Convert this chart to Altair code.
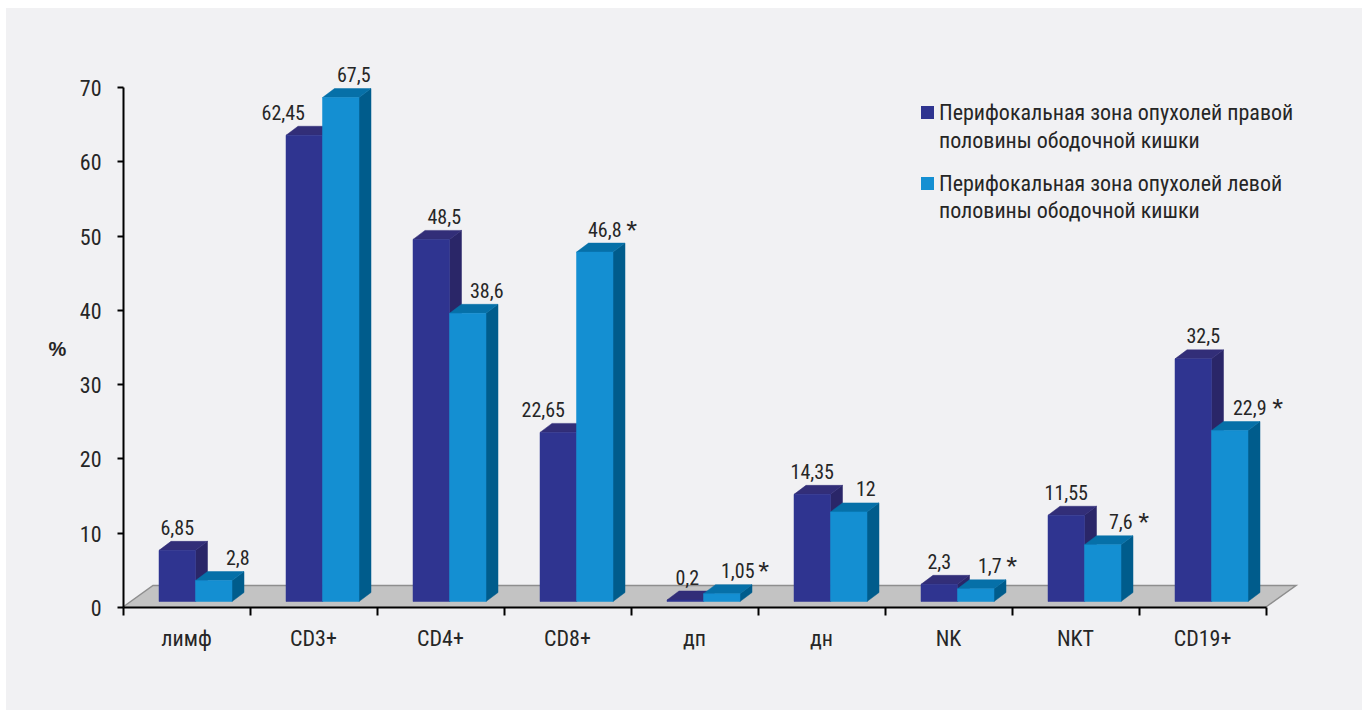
import json
import altair as alt
import pandas as pd

categories = ["лимф", "CD3+", "CD4+", "CD8+", "дп", "дн", "NK", "NKT", "CD19+"]
right_colon = [6.85, 62.45, 48.5, 22.65, 0.2, 14.35, 2.3, 11.55, 32.5]
left_colon = [2.8, 67.5, 38.6, 46.8, 1.05, 12, 1.7, 7.6, 22.9]
right_labels = ["6,85", "62,45", "48,5", "22,65", "0,2", "14,35", "2,3", "11,55", "32,5"]
left_labels = ["2,8", "67,5", "38,6", "46,8", "1,05", "12", "1,7", "7,6", "22,9"]
significant_left = ["CD8+", "дп", "NK", "NKT", "CD19+"]
legend_right = ["Перифокальная зона опухолей правой", "половины ободочной кишки"]
legend_left = ["Перифокальная зона опухолей левой", "половины ободочной кишки"]

# Horizontal nudges of the value labels away from their bars, in pixels.
right_nudge = [0, -21, 13, -15, 2, 0, 0, 0, 10]
left_nudge = [24, 13, 19, 10, 16, 17, 14, 18, 20]
star_gap = [0, 0, 0, 27, 26, 0, 22, 23, 28]

FONT = "Roboto Condensed"
WEIGHT = 400
TEXT = "#262626"
PX_X = 127.0           # pixels per category
PX_Y = 520 / 70        # pixels per percentage point
DEPTH_X = 12 / PX_X    # bar depth projected on x
DEPTH_Y = 9 / PX_Y     # bar depth projected on y
BASE = 5.5 / PX_Y      # bars stand slightly behind the front edge of the floor
STRETCH = 1.005
BAR_W = 36.5 / PX_X
BAR_START = 36 / PX_X
FLOOR_X = 30 / PX_X
FLOOR_Y = 21.5 / PX_Y

x_scale = alt.Scale(domain=[0, 9], nice=False, zero=False)
y_scale = alt.Scale(domain=[0, 70], nice=False)

label_expr = json.dumps(categories + [""], ensure_ascii=False) + "[datum.value]"
x_axis = alt.Axis(
    values=list(range(10)), labelExpr=label_expr, labelOffset=63,
    labelFont=FONT, labelFontWeight=WEIGHT, labelFontSize=22, labelColor=TEXT,
    labelPadding=13, labelOverlap=False, labelBound=False, labelFlush=False,
    tickColor="#000000", tickWidth=2, tickSize=8, grid=False,
    domainColor="#000000", domainWidth=2, title=None, zindex=1,
)
y_axis = alt.Axis(
    values=list(range(0, 71, 10)), labelFont=FONT, labelFontWeight=WEIGHT,
    labelFontSize=22, labelColor=TEXT, labelPadding=16, labelOffset=1.5,
    tickColor="#000000", tickWidth=2, tickSize=6, grid=False,
    domainColor="#000000", domainWidth=2, zindex=1,
    title="%", titleFont="Liberation Sans", titleFontSize=20,
    titleFontWeight="bold", titleAngle=0, titleColor=TEXT,
    titleX=-66, titleY=272,
)


def X(field="x:Q"):
    return alt.X(field, scale=x_scale, axis=x_axis)


def Y(field):
    return alt.Y(field, scale=y_scale, axis=y_axis)


def bar_faces(values, start):
    fronts, tops, sides = [], [], []
    for i, v in enumerate(values):
        x0 = i + start
        x1 = x0 + BAR_W
        top = BASE + v * STRETCH
        fronts.append({"x": x0, "x2": x1, "y": top, "y2": BASE})
        for px, lo, hi in [
            (x0, top, top),
            (x0 + DEPTH_X, top, top + DEPTH_Y),
            (x1, top, top + DEPTH_Y),
            (x1 + DEPTH_X, top + DEPTH_Y, top + DEPTH_Y),
        ]:
            tops.append({"bar": i, "x": px, "lo": lo, "hi": hi})
        for px, lo, hi in [
            (x1, BASE, top),
            (x1 + DEPTH_X, BASE + DEPTH_Y, top + DEPTH_Y),
        ]:
            sides.append({"bar": i, "x": px, "lo": lo, "hi": hi})
    return pd.DataFrame(fronts), pd.DataFrame(tops), pd.DataFrame(sides)


def face_area(df, color):
    return alt.Chart(df).mark_area(
        color=color, stroke=color, strokeWidth=0.5, interpolate="linear"
    ).encode(x=X(), y=Y("lo:Q"), y2="hi:Q", detail="bar:N")


def bar_layers(values, start, front_color, top_color, side_color):
    fronts, tops, sides = bar_faces(values, start)
    front = alt.Chart(fronts).mark_rect(
        color=front_color, stroke=front_color, strokeWidth=0.5
    ).encode(x=X(), x2="x2:Q", y=Y("y:Q"), y2="y2:Q")
    return [face_area(sides, side_color), face_area(tops, top_color), front]


def value_labels(values, labels, start, nudges):
    rows = []
    for i, (v, lab, n) in enumerate(zip(values, labels, nudges)):
        rows.append({
            "x": i + start + BAR_W / 2 + n / PX_X,
            "y": BASE + v * STRETCH + 21.5 / PX_Y,
            "label": lab,
        })
    return alt.Chart(pd.DataFrame(rows)).mark_text(
        font=FONT, fontWeight=WEIGHT, fontSize=20, color=TEXT,
        baseline="middle", align="center",
    ).encode(x=X(), y=Y("y:Q"), text="label:N")


# Backdrop panel behind the whole figure
panel = alt.Chart(pd.DataFrame({"a": [0]})).mark_rect(color="#f1f1f3").encode(
    x=alt.value(-117), x2=alt.value(1239), y=alt.value(-79), y2=alt.value(623)
)

# Grey floor of the pseudo-3D plot
floor_df = pd.DataFrame({
    "bar": 0,
    "x": [0, FLOOR_X, 9, 9 + FLOOR_X],
    "lo": [0, 0, 0, FLOOR_Y],
    "hi": [0, FLOOR_Y, FLOOR_Y, FLOOR_Y],
})
floor = alt.Chart(floor_df).mark_area(color="#c3c3c3", interpolate="linear").encode(
    x=X(), y=Y("lo:Q"), y2="hi:Q", detail="bar:N"
)
floor_edge_df = pd.DataFrame({
    "step": [0, 1, 2, 3],
    "x": [0, FLOOR_X, 9 + FLOOR_X, 9],
    "y": [0, FLOOR_Y, FLOOR_Y, 0],
})
floor_edge = alt.Chart(floor_edge_df).mark_line(color="#8e8e8e", strokeWidth=1.5).encode(
    x=X(), y=Y("y:Q"), order="step:Q"
)

dark_layers = bar_layers(right_colon, BAR_START, "#2f3490", "#322e78", "#2a2668")
light_layers = bar_layers(left_colon, BAR_START + BAR_W, "#148fd2", "#0670a8", "#005c8c")

star_rows = []
for i, (c, v, n) in enumerate(zip(categories, left_colon, left_nudge)):
    if c in significant_left:
        star_rows.append({
            "x": i + BAR_START + BAR_W * 1.5 + (n + star_gap[i]) / PX_X,
            "y": BASE + v * STRETCH + 21.5 / PX_Y,
            "label": "*",
        })
stars = alt.Chart(pd.DataFrame(star_rows)).mark_text(
    font="Liberation Sans", fontSize=28, color=TEXT, baseline="middle", align="center", dy=1
).encode(x=X(), y=Y("y:Q"), text="label:N")

# Hand-drawn legend in the upper right corner
legend_swatches = [
    alt.Chart(pd.DataFrame({"a": [0]})).mark_rect(color=col).encode(
        x=alt.value(798), x2=alt.value(811), y=alt.value(y0), y2=alt.value(y0 + 13)
    )
    for col, y0 in [("#2f3490", 19), ("#148fd2", 90)]
]
legend_lines = [
    alt.Chart(pd.DataFrame({"label": [line]})).mark_text(
        font=FONT, fontWeight=WEIGHT, fontSize=22, color=TEXT, align="left", baseline="middle"
    ).encode(x=alt.value(816), y=alt.value(py), text="label:N")
    for line, py in zip(legend_right + legend_left, [26, 54, 97, 124])
]

chart = alt.layer(
    panel, floor, floor_edge, *dark_layers, *light_layers,
    value_labels(right_colon, right_labels, BAR_START, right_nudge),
    value_labels(left_colon, left_labels, BAR_START + BAR_W, left_nudge),
    stars, *legend_swatches, *legend_lines,
).properties(
    width=1143,
    height=520,
    background="#ffffff",
    padding={"left": 123, "top": 87, "right": 96, "bottom": 103},
    autosize=alt.AutoSizeParams(type="none"),
).configure_view(stroke=None)

chart.save("out.html", embed_options={"renderer": "svg", "actions": False})
